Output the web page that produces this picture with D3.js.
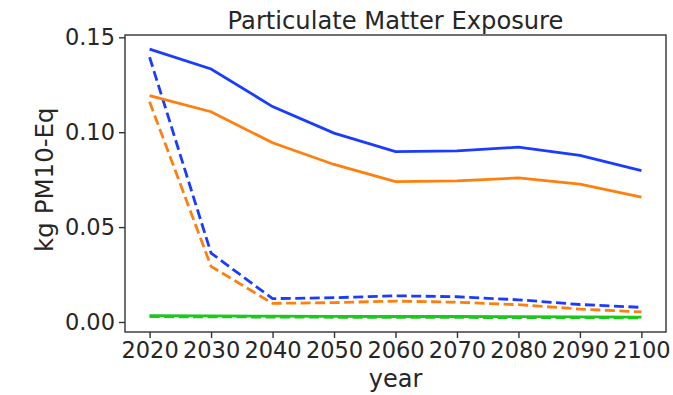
<!DOCTYPE html>
<html>
<head>
<meta charset="utf-8">
<script src="https://cdn.jsdelivr.net/npm/d3@7"></script>
<style>
body { margin: 0; background: #fff; }
text { font-family: "DejaVu Sans", sans-serif; fill: #262626; }
</style>
</head>
<body>
<div id="figure"></div>
<script>
var years = [2020, 2030, 2040, 2050, 2060, 2070, 2080, 2090, 2100];
var blueSolid = [0.1438, 0.1333, 0.1135, 0.0995, 0.0898, 0.0902, 0.0921, 0.0878, 0.0798];
var orangeSolid = [0.1193, 0.1108, 0.0944, 0.0830, 0.0740, 0.0744, 0.0759, 0.0726, 0.0658];
var blueDashed = [0.1395, 0.0363, 0.0123, 0.0128, 0.0138, 0.0133, 0.0117, 0.0092, 0.0077];
var orangeDashed = [0.1160, 0.0293, 0.0098, 0.0102, 0.0110, 0.0104, 0.0091, 0.0068, 0.0053];
var greenSolid = [0.0033, 0.0032, 0.0031, 0.0030, 0.0029, 0.0029, 0.0028, 0.0027, 0.0026];
var greenDashed = [0.0028, 0.0027, 0.0026, 0.0025, 0.0025, 0.0024, 0.0023, 0.0023, 0.0022];
var yTicks = [0, 0.05, 0.10, 0.15];

var series = [
    { values: greenDashed, color: "#1cc81c", dash: "10,4.5" },
    { values: greenSolid, color: "#1cc81c", dash: null },
    { values: orangeDashed, color: "#ff7f0e", dash: "10,4.5" },
    { values: blueDashed, color: "#1a3cff", dash: "10,4.5" },
    { values: orangeSolid, color: "#ff7f0e", dash: null },
    { values: blueSolid, color: "#1a3cff", dash: null }
];

const margin = { top: 35, right: 7, bottom: 63, left: 125 };
const W = 673, H = 395;
const width = W - margin.left - margin.right;
const height = H - margin.top - margin.bottom;

var svg = d3.select("#figure")
    .append("svg")
    .attr("width", W)
    .attr("height", H)
    .append("g")
    .attr("transform", `translate(${margin.left},${margin.top})`);

var x = d3.scaleLinear().domain([2016, 2104]).range([0, width]);
var y = d3.scaleLinear().domain([-0.00528, 0.15122]).range([height, 0]);

// axes
var xAxis = svg.append("g")
    .attr("transform", `translate(0,${height})`)
    .call(d3.axisBottom(x).tickValues(years).tickFormat(d3.format("d")).tickSize(6).tickPadding(4));
var yAxis = svg.append("g")
    .call(d3.axisLeft(y).tickValues(yTicks).tickFormat(d3.format(".2f")).tickSize(6).tickPadding(4));

[xAxis, yAxis].forEach(function (a) {
    a.select(".domain").remove();
    a.selectAll("line").attr("stroke", "#333").attr("stroke-width", 1.4);
    a.selectAll("text").attr("font-size", "22.5px").style("fill", "#262626");
});

// lines
var line = d3.line()
    .x(function (d, i) { return x(years[i]); })
    .y(function (d) { return y(d); });

svg.selectAll(".series")
    .data(series)
    .join("path")
    .attr("class", "series")
    .attr("d", d => line(d.values))
    .attr("fill", "none")
    .attr("stroke", d => d.color)
    .attr("stroke-width", 2.8)
    .attr("stroke-dasharray", d => d.dash);

// frame
svg.append("rect")
    .attr("width", width)
    .attr("height", height)
    .attr("fill", "none")
    .attr("stroke", "#333")
    .attr("stroke-width", 1.4);

svg.append("text")
    .attr("text-anchor", "middle")
    .attr("x", width / 2)
    .attr("y", -6)
    .attr("font-size", "24.2px")
    .text("Particulate Matter Exposure");

svg.append("text")
    .attr("text-anchor", "middle")
    .attr("x", x(2060))
    .attr("y", height + 55)
    .attr("font-size", "24px")
    .text("year");

svg.append("text")
    .attr("text-anchor", "middle")
    .attr("transform", `translate(${-72},${y(0.075)}) rotate(-90)`)
    .attr("font-size", "24.5px")
    .text("kg PM10-Eq");
</script>
</body>
</html>
